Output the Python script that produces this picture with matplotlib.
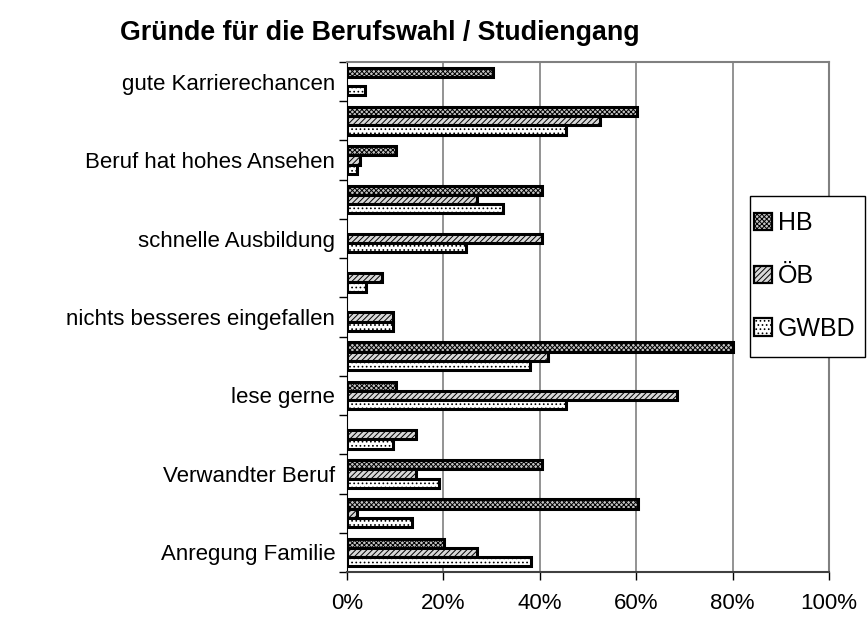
import matplotlib
matplotlib.use("Agg")
import matplotlib.pyplot as plt
from matplotlib.patches import Patch, Rectangle
import numpy as np

plt.rcParams['font.family'] = ['Liberation Sans', 'DejaVu Sans']
plt.rcParams['hatch.linewidth'] = 0.7

# categories top to bottom ("" = unlabeled group)
categories = ["gute Karrierechancen", "", "Beruf hat hohes Ansehen", "",
              "schnelle Ausbildung", "", "nichts besseres eingefallen", "",
              "lese gerne", "", "Verwandter Beruf", "", "Anregung Familie"]
series = ["HB", "ÖB", "GWBD"]
hb   = [30.3, 60.2, 10.1, 40.4, 0.0, 0.0, 0.0, 80.0, 10.1, 0.0, 40.4, 60.4, 20.2]
oeb  = [0.0, 52.4, 2.6, 27.0, 40.4, 7.2, 9.6, 41.6, 68.4, 14.3, 14.3, 2.0, 27.0]
gwbd = [3.8, 45.5, 2.0, 32.4, 24.7, 3.9, 9.5, 38.0, 45.5, 9.6, 19.1, 13.5, 38.2]
xticks = [0, 20, 40, 60, 80, 100]

fig = plt.figure(figsize=(8.68, 6.19), dpi=100)
ax = fig.add_axes([0.3998, 0.0759, 0.955 - 0.3998, 0.8998 - 0.0759])

n = len(categories)
y = np.arange(n)[::-1].astype(float)  # top category at highest y
h = 0.235
styles = [dict(facecolor='#c4c4c4', hatch='xxxxxxx'),
          dict(facecolor='#d8d8d8', hatch='//////'),
          dict(facecolor='white', hatch='....')]
for i, (vals, st) in enumerate(zip([hb, oeb, gwbd], styles)):
    offs = (1 - i) * h
    for yy, v in zip(y, vals):
        if v > 0:
            ax.barh(yy + offs, v, height=h, edgecolor='black', linewidth=2.2,
                    zorder=3, **st)

ax.set_xlim(0, 100)
ax.set_ylim(-0.5, n - 0.5)
ax.set_xticks(xticks)
ax.set_xticklabels([f"{t}%" for t in xticks], fontsize=16)
ax.tick_params(axis='x', length=6, width=1, pad=9, color='black')
ax.set_yticks(y)
ax.set_yticklabels(categories, fontsize=16)
ax.tick_params(axis='y', which='major', length=0, pad=8.5)
ax.set_yticks(np.arange(n + 1) - 0.5, minor=True)
ax.tick_params(axis='y', which='minor', length=6, width=1, color='black')

ax.grid(axis='x', color='#808080', linewidth=1.2, zorder=0)
for s in ['top', 'right']:
    ax.spines[s].set_color('#808080')
    ax.spines[s].set_linewidth(1.5)
ax.spines['left'].set_color('black')
ax.spines['bottom'].set_color('#404040')
ax.spines['bottom'].set_linewidth(1.5)

fig.text(0.4378, 0.947, "Gründe für die Berufswahl / Studiengang",
         fontsize=19.3, fontweight='bold', ha='center', va='center')

handles = [Patch(edgecolor='black', linewidth=1.6, **st) for st in styles]
leg = fig.legend(handles, series, loc='center left',
                 bbox_to_anchor=(754 / 868, 1 - 276 / 619), fontsize=18,
                 frameon=False, handlelength=0.7, handleheight=0.7,
                 handletextpad=0.25, labelspacing=1.15, borderpad=0,
                 borderaxespad=0)
leg.set_zorder(10)
fig.add_artist(Rectangle((750 / 868, 1 - 357 / 619), 115 / 868, 161 / 619,
                         transform=fig.transFigure, fill=True,
                         facecolor='white', edgecolor='black', linewidth=1.0,
                         zorder=8))

fig.savefig("out.png", dpi=100)
